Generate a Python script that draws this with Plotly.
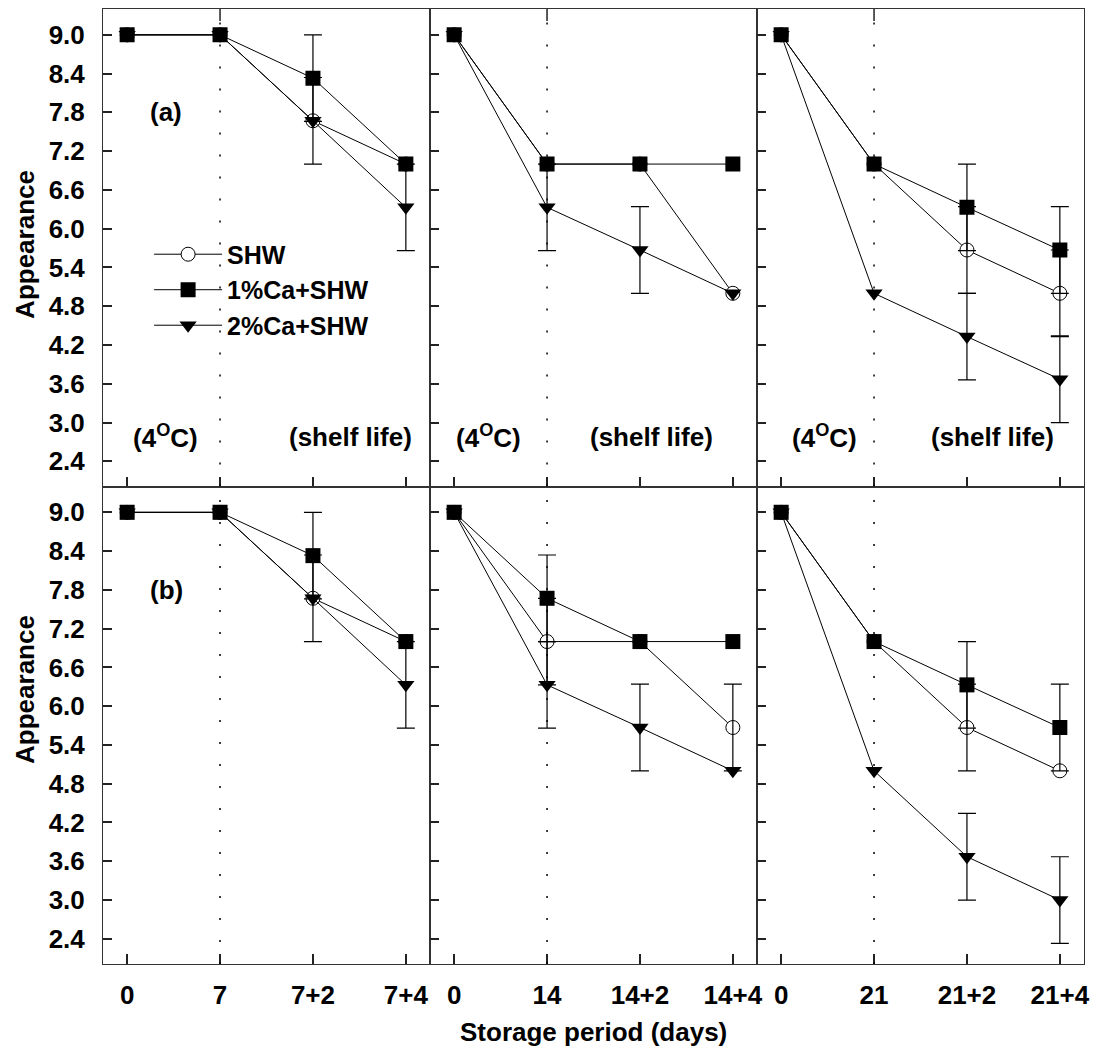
import plotly.graph_objects as go
from plotly.subplots import make_subplots

# ---------------- data ----------------
series_names = ["SHW", "1%Ca+SHW", "2%Ca+SHW"]

cats_7 = ["0", "7", "7+2", "7+4"]
cats_14 = ["0", "14", "14+2", "14+4"]
cats_21 = ["0", "21", "21+2", "21+4"]

# (a) top row
a7_shw = [9.0, 9.0, 7.67, 7.0]
a7_ca1 = [9.0, 9.0, 8.33, 7.0]
a7_ca2 = [9.0, 9.0, 7.67, 6.33]
a7_shw_err = [None, None, 0.67, None]
a7_ca1_err = [None, None, 0.67, None]
a7_ca2_err = [None, None, None, 0.67]

a14_shw = [9.0, 7.0, 7.0, 5.0]
a14_ca1 = [9.0, 7.0, 7.0, 7.0]
a14_ca2 = [9.0, 6.33, 5.67, 5.0]
a14_shw_err = [None, None, None, None]
a14_ca1_err = [None, None, None, None]
a14_ca2_err = [None, 0.67, 0.67, None]

a21_shw = [9.0, 7.0, 5.67, 5.0]
a21_ca1 = [9.0, 7.0, 6.33, 5.67]
a21_ca2 = [9.0, 5.0, 4.33, 3.67]
a21_shw_err = [None, None, 0.67, 0.67]
a21_ca1_err = [None, None, 0.67, 0.67]
a21_ca2_err = [None, None, 0.67, 0.67]

# (b) bottom row
b7_shw = [9.0, 9.0, 7.67, 7.0]
b7_ca1 = [9.0, 9.0, 8.33, 7.0]
b7_ca2 = [9.0, 9.0, 7.67, 6.33]
b7_shw_err = [None, None, 0.67, None]
b7_ca1_err = [None, None, 0.67, None]
b7_ca2_err = [None, None, None, 0.67]

b14_shw = [9.0, 7.0, 7.0, 5.67]
b14_ca1 = [9.0, 7.67, 7.0, 7.0]
b14_ca2 = [9.0, 6.33, 5.67, 5.0]
b14_shw_err = [None, 0.67, None, 0.67]
b14_ca1_err = [None, 0.67, None, None]
b14_ca2_err = [None, 0.67, 0.67, None]

b21_shw = [9.0, 7.0, 5.67, 5.0]
b21_ca1 = [9.0, 7.0, 6.33, 5.67]
b21_ca2 = [9.0, 5.0, 3.67, 3.0]
b21_shw_err = [None, None, 0.67, None]
b21_ca1_err = [None, None, 0.67, 0.67]
b21_ca2_err = [None, None, 0.67, 0.67]

y_ticks = [2.4, 3.0, 3.6, 4.2, 4.8, 5.4, 6.0, 6.6, 7.2, 7.8, 8.4, 9.0]
Y_RANGE = [2.01, 9.40]

panels = [
    (1, 1, cats_7, [(a7_shw, a7_shw_err), (a7_ca1, a7_ca1_err), (a7_ca2, a7_ca2_err)]),
    (1, 2, cats_14, [(a14_shw, a14_shw_err), (a14_ca1, a14_ca1_err), (a14_ca2, a14_ca2_err)]),
    (1, 3, cats_21, [(a21_shw, a21_shw_err), (a21_ca1, a21_ca1_err), (a21_ca2, a21_ca2_err)]),
    (2, 1, cats_7, [(b7_shw, b7_shw_err), (b7_ca1, b7_ca1_err), (b7_ca2, b7_ca2_err)]),
    (2, 2, cats_14, [(b14_shw, b14_shw_err), (b14_ca1, b14_ca1_err), (b14_ca2, b14_ca2_err)]),
    (2, 3, cats_21, [(b21_shw, b21_shw_err), (b21_ca1, b21_ca1_err), (b21_ca2, b21_ca2_err)]),
]

# ---------------- style ----------------
FONT = "Liberation Sans, Arial, Helvetica, sans-serif"
markers = [
    dict(symbol="circle", size=14, color="white", line=dict(color="black", width=1)),
    dict(symbol="square", size=15, color="black", line=dict(color="black", width=0)),
    dict(symbol="triangle-down", size=15, color="black", line=dict(color="black", width=0)),
]

fig = make_subplots(rows=2, cols=3, horizontal_spacing=0, vertical_spacing=0)

for (r, c, cats, series) in panels:
    for i, (vals, errs) in enumerate(series):
        fig.add_trace(go.Scatter(
            x=cats, y=vals, mode="lines+markers", name=series_names[i],
            line=dict(color="black", width=1), marker=markers[i],
            showlegend=(r == 1 and c == 1), legendgroup=series_names[i],
            hoverinfo="skip"), row=r, col=c)
    for i, (vals, errs) in enumerate(series):
        xs = [cats[k] for k in range(len(vals)) if errs[k] is not None]
        ys = [vals[k] for k in range(len(vals)) if errs[k] is not None]
        es = [e for e in errs if e is not None]
        if not xs:
            continue
        fig.add_trace(go.Scatter(
            x=xs, y=ys, mode="markers", marker=dict(size=1, color="rgba(0,0,0,0)"),
            error_y=dict(type="data", array=es, symmetric=True, color="black",
                         thickness=1.2, width=9),
            showlegend=False, hoverinfo="skip", legendgroup=series_names[i]),
            row=r, col=c)

for r in (1, 2):
    for c in (1, 2, 3):
        fig.update_xaxes(
            row=r, col=c, type="category", range=[-0.26, 3.26],
            showline=True, mirror=True, linecolor="#333", linewidth=1,
            ticks="inside", ticklen=10, tickwidth=2, tickcolor="#222",
            showgrid=False, zeroline=False,
            showticklabels=(r == 2), ticklabelstandoff=8,
            tickfont=dict(family=FONT, size=26, color="black", weight="bold"),
        )
        fig.update_yaxes(
            row=r, col=c, range=Y_RANGE,
            tickvals=y_ticks, ticktext=[f"{v:.1f}" for v in y_ticks],
            showline=True, mirror=True, linecolor="#333", linewidth=1,
            ticks="inside", ticklen=9, tickwidth=1.5, tickcolor="#222",
            showgrid=False, zeroline=False,
            showticklabels=(c == 1), ticklabelstandoff=12,
            tickfont=dict(family=FONT, size=26, color="black", weight="bold"),
        )

# dotted vertical separators (end of cold storage) at the second category
for idx, (r, c, cats, series) in enumerate(panels):
    n = idx + 1
    xref = "x" if n == 1 else f"x{n}"
    yref = "y" if n == 1 else f"y{n}"
    fig.add_shape(type="line", xref=xref, yref=yref, x0=1, x1=1,
                  y0=Y_RANGE[0], y1=Y_RANGE[1],
                  line=dict(color="black", width=1.5, dash="2px,20px"))
    if r == 1:
        top_len = (Y_RANGE[1] - Y_RANGE[0]) * 0.025
        fig.add_shape(type="line", xref=xref, yref=yref, x0=1, x1=1,
                      y0=Y_RANGE[1] - top_len, y1=Y_RANGE[1],
                      line=dict(color="#222", width=1.5))

annot_font = dict(family=FONT, size=26, color="black", weight="bold")
anns = []
anns.append(dict(text="(a)", xref="x domain", yref="y", x=0.193, y=7.8,
                 xanchor="center", yanchor="middle", showarrow=False, font=annot_font))
anns.append(dict(text="(b)", xref="x4 domain", yref="y4", x=0.193, y=7.8,
                 xanchor="center", yanchor="middle", showarrow=False, font=annot_font))
cold_x = [0.19, 0.18, 0.205]
shelf_x = [0.758, 0.676, 0.719]
for k, ax in enumerate(["x", "x2", "x3"]):
    yr = ("y" if k == 0 else f"y{k+1}") + " domain"
    anns.append(dict(text="(4<sup>O</sup>C)", xref=f"{ax} domain", yref=yr,
                     x=cold_x[k], y=0.104, xanchor="center", yanchor="middle",
                     showarrow=False, font=annot_font))
    anns.append(dict(text="(shelf life)", xref=f"{ax} domain", yref=yr,
                     x=shelf_x[k], y=0.104, xanchor="center", yanchor="middle",
                     showarrow=False, font=annot_font))
title_font = dict(family=FONT, size=26, color="black", weight="bold")
anns.append(dict(text="Storage period (days)", xref="paper", yref="paper",
                 x=0.5, y=-0.0712, xanchor="center", yanchor="middle",
                 showarrow=False, font=title_font))
anns.append(dict(text="Appearance", xref="paper", yref="paper", textangle=-90,
                 x=-0.0795, y=0.753, xanchor="center", yanchor="middle",
                 showarrow=False, font=title_font))
anns.append(dict(text="Appearance", xref="paper", yref="paper", textangle=-90,
                 x=-0.0795, y=0.287, xanchor="center", yanchor="middle",
                 showarrow=False, font=title_font))

fig.update_layout(
    width=1101, height=1048,
    margin=dict(l=103, r=17, t=9, b=84),
    paper_bgcolor="white", plot_bgcolor="white",
    font=dict(family=FONT, color="black"),
    annotations=anns,
    legend=dict(x=0.047, y=0.7058, xanchor="left", yanchor="middle",
                itemwidth=68,
                bgcolor="rgba(0,0,0,0)", borderwidth=0, tracegroupgap=0,
                font=dict(family=FONT, size=25, color="black", weight="bold")),
    showlegend=True,
)

fig.write_html("out.html")
